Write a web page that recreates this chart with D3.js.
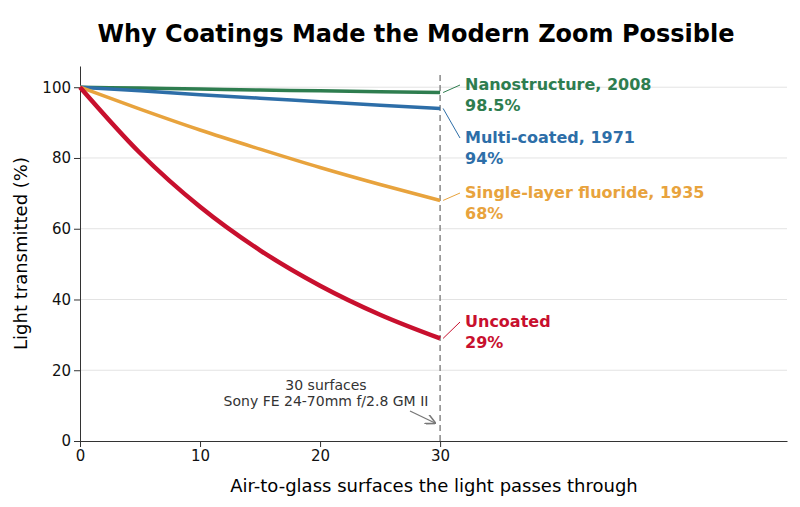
<!DOCTYPE html>
<html><head><meta charset="utf-8">
<script src="https://cdn.jsdelivr.net/npm/d3@7"></script>
<style>body{margin:0;background:#fff;font-family:"DejaVu Sans",sans-serif}</style>
</head><body><div id="chart"></div>
<script>
const surfaces = [0, 5, 10, 15, 20, 25, 30];
const uncoated = [100, 81.4, 66.2, 53.9, 43.9, 35.7, 29];
const singleLayer = [100, 93.8, 87.9, 82.5, 77.3, 72.5, 68];
const multiCoated = [100, 99.0, 97.9, 96.9, 95.9, 94.9, 94];
const nano = [100, 99.75, 99.5, 99.2, 99.0, 98.7, 98.5];
const yTicks = [0, 20, 40, 60, 80, 100];
const xTicks = [0, 10, 20, 30];

const series = [
  {name: "Nanostructure, 2008", pct: "98.5%", vals: nano, color: "#2e7d4f", w: 3.5, ly: 85},
  {name: "Multi-coated, 1971", pct: "94%", vals: multiCoated, color: "#2d6ea8", w: 3.5, ly: 138},
  {name: "Single-layer fluoride, 1935", pct: "68%", vals: singleLayer, color: "#e8a33d", w: 3.5, ly: 193},
  {name: "Uncoated", pct: "29%", vals: uncoated, color: "#c8102e", w: 4.5, ly: 322}
];

const width = 800, height = 507;
const margin = {top: 66, right: 13, bottom: 66, left: 80};
const svg = d3.select("#chart").append("svg").attr("width", width).attr("height", height);

const x = d3.scaleLinear().domain([0, 58.9]).range([margin.left, width - margin.right]);
const y = d3.scaleLinear().domain([0, 106]).range([height - margin.bottom, margin.top]);

svg.append("text").attr("x", 416).attr("y", 42).attr("text-anchor", "middle")
  .attr("font-size", 24).attr("font-weight", "bold").text("Why Coatings Made the Modern Zoom Possible");

// grid
svg.append("g").selectAll("line").data(yTicks.slice(1)).join("line")
  .attr("x1", x(0)).attr("x2", x(58.9)).attr("y1", d => y(d)).attr("y2", d => y(d))
  .attr("stroke", "#e3e3e3");

const gx = svg.append("g").attr("transform", `translate(0,${y(0)})`)
  .call(d3.axisBottom(x).tickValues(xTicks).tickSizeOuter(0));
const gy = svg.append("g").attr("transform", `translate(${x(0)},0)`)
  .call(d3.axisLeft(y).tickValues(yTicks).tickSizeOuter(0));
[gx, gy].forEach(g => {
  g.selectAll("text").attr("font-size", 15).attr("font-family", "DejaVu Sans").attr("fill", "#111");
  g.selectAll("line,path").attr("stroke", "#333");
});

svg.append("text").attr("x", 434).attr("y", 492).attr("text-anchor", "middle")
  .attr("font-size", 18).text("Air-to-glass surfaces the light passes through");
svg.append("text").attr("transform", `translate(27,${(y(0) + y(106)) / 2}) rotate(-90)`)
  .attr("text-anchor", "middle").attr("font-size", 18).text("Light transmitted (%)");

// dashed marker
svg.append("line").attr("x1", x(30)).attr("x2", x(30)).attr("y1", 75).attr("y2", y(0))
  .attr("stroke", "#888").attr("stroke-width", 1.5).attr("stroke-dasharray", "6,4");

const line = d3.line().x((d, i) => x(surfaces[i])).y(d => y(d)).curve(d3.curveMonotoneX);
series.forEach(s => {
  svg.append("path").attr("d", line(s.vals)).attr("fill", "none")
    .attr("stroke", s.color).attr("stroke-width", s.w);
  const endY = y(s.vals[s.vals.length - 1]);
  svg.append("line").attr("x1", x(30) + 3).attr("y1", endY).attr("x2", 460).attr("y2", s.ly)
    .attr("stroke", s.color).attr("stroke-width", 1);
  const t = svg.append("text").attr("x", 465).attr("y", s.ly + 5).attr("fill", s.color)
    .attr("font-size", 16).attr("font-weight", "bold");
  t.append("tspan").attr("x", 465).text(s.name);
  t.append("tspan").attr("x", 465).attr("dy", 21).text(s.pct);
});

svg.append("text").attr("x", 326).attr("y", 390).attr("text-anchor", "middle")
  .attr("font-size", 14).attr("fill", "#333").text("30 surfaces");
svg.append("text").attr("x", 326).attr("y", 406).attr("text-anchor", "middle")
  .attr("font-size", 14).attr("fill", "#333").text("Sony FE 24-70mm f/2.8 GM II");
svg.append("defs").append("marker").attr("id", "ah").attr("viewBox", "0 0 10 10")
  .attr("refX", 9).attr("refY", 5).attr("markerWidth", 8).attr("markerHeight", 8).attr("orient", "auto")
  .append("path").attr("d", "M0,0 L10,5 L0,10").attr("fill", "none").attr("stroke", "#777").attr("stroke-width", 1.5);
svg.append("line").attr("x1", 410).attr("y1", 411).attr("x2", 435).attr("y2", 423)
  .attr("stroke", "#777").attr("stroke-width", 1.3).attr("marker-end", "url(#ah)");
</script></body></html>
